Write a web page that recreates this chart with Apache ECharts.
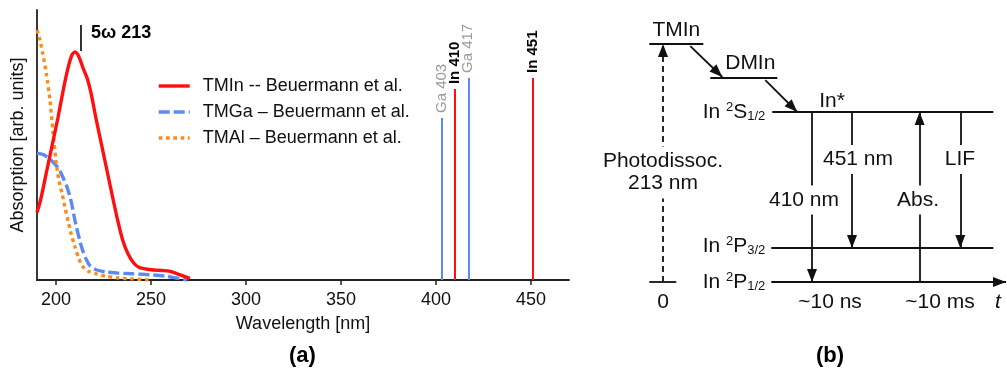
<!DOCTYPE html>
<html>
<head>
<meta charset="utf-8">
<script src="https://cdn.jsdelivr.net/npm/echarts@6/dist/echarts.min.js"></script>
<style>
  html, body { margin: 0; padding: 0; background: #fff; }
  #chart { width: 1007px; height: 371px; }
</style>
</head>
<body>
<div id="chart"></div>
<script>
// ---- (a) absorption spectra: [wavelength nm, absorption arb. units] ----
const tmInSpectrum = [
  [190, 0.25], [192, 0.3], [195, 0.4], [198, 0.5], [201, 0.6], [204, 0.71],
  [206.5, 0.79], [208.5, 0.835], [210, 0.845], [211.5, 0.835], [213, 0.81],
  [214.5, 0.78], [216.5, 0.745], [218.5, 0.69], [221, 0.6], [224, 0.5],
  [227, 0.4], [230, 0.3], [232.5, 0.22], [235, 0.15], [238, 0.095],
  [241, 0.062], [244, 0.046], [250, 0.038], [256, 0.035], [260, 0.032],
  [265, 0.02], [270.5, 0.006]
];
const tmGaSpectrum = [
  [190, 0.47], [193, 0.465], [195.5, 0.455], [198, 0.44], [200, 0.425],
  [202, 0.405], [204, 0.375], [206, 0.34], [208, 0.29], [210, 0.22],
  [212, 0.16], [214, 0.11], [216, 0.075], [218, 0.052], [221, 0.038],
  [226, 0.03], [232, 0.026], [240, 0.023], [250, 0.019], [258, 0.014],
  [263, 0.008], [269, 0.0]
];
const tmAlSpectrum = [
  [190, 0.926], [191.5, 0.89], [193, 0.84], [195, 0.76], [196.8, 0.667],
  [198.4, 0.548], [200, 0.44], [201.5, 0.37], [203.2, 0.32], [205, 0.26],
  [206.5, 0.215], [208, 0.17], [210, 0.122], [212, 0.08], [214, 0.05],
  [217, 0.032], [221.6, 0.022], [226, 0.014], [232, 0.008], [240, 0.004],
  [249.5, 0.0]
];
const spectrumNames = ['TMIn -- Beuermann et al.', 'TMGa – Beuermann et al.', 'TMAl – Beuermann et al.'];

// atomic emission lines (nm) and their drawn heights
const emissionNames = ['Ga 403', 'In 410', 'Ga 417', 'In 451'];
const emissionWavelengths = [403, 410, 417, 451];
const emissionHeights = [0.6, 0.707, 0.748, 0.748];

// photodissociation laser (5th harmonic)
const laserWavelength = 213;
const laserLabel = '5ω 213';
const laserSpan = [0.848, 0.944];

const wavelengthTicks = [200, 250, 300, 350, 400, 450];

// ---- (b) level scheme: energy (arb.) and schematic time positions ----
const levelEnergy = { TMIn: 7, DMIn: 6, S12: 5, P32: 1, P12: 0 };
const levelSpan = {
  TMIn: [-1.37, 4.03], DMIn: [4.73, 11.43], S12: [10.93, 33.03],
  P32: [10.83, 33.03], ground: [-1.37, 1.33]
};
const timeAxisEnd = 34.3;
const cascade = [
  [[2.73, 6.94], [5.93, 6.03]],
  [[10.23, 5.94], [13.43, 5.0]]
];
const transitions = [
  { name: '410 nm', x: 14.9, from: 'S12', to: 'P12', labelX: 14.1, labelY: 2.41 },
  { name: '451 nm', x: 18.9, from: 'S12', to: 'P32', labelX: 19.5, labelY: 3.6 },
  { name: 'Abs.', x: 25.66, from: 'P12', to: 'S12', labelX: 25.5, labelY: 2.41 },
  { name: 'LIF', x: 29.73, from: 'S12', to: 'P32', labelX: 29.7, labelY: 3.6 }
];
const timeMarks = [{ text: '~10 ns', x: 16.7 }, { text: '~10 ms', x: 27.7 }];

// ---------------------------------------------------------------------
const FONT = '"Liberation Sans", Arial, Helvetica, sans-serif';
const RED = '#ff0f0f', BLUE = '#5b8bf2', ORANGE = '#ff8a1c', INK = '#111';
const arrowHead = 'path://M5,0M5,13L10,26L0,26Z';

const chart = echarts.init(document.getElementById('chart'), null, { renderer: 'canvas' });

// (a) emission line segments and labels
const emissionLineData = emissionWavelengths.map((w, i) => ({
  coords: [[w, 0], [w, emissionHeights[i]]],
  lineStyle: { color: emissionNames[i].startsWith('In') ? RED : BLUE }
}));
const emissionLabelData = emissionWavelengths.map((w, i) => {
  const isIn = emissionNames[i].startsWith('In');
  return {
    value: [w, emissionHeights[i]],
    label: {
      formatter: emissionNames[i],
      color: isIn ? '#000' : '#9a9a9a',
      fontWeight: isIn ? 'bold' : 'normal'
    }
  };
});

// (b) level segments
const levelLines = [
  { coords: [[levelSpan.TMIn[0], levelEnergy.TMIn], [levelSpan.TMIn[1], levelEnergy.TMIn]] },
  { coords: [[levelSpan.DMIn[0], levelEnergy.DMIn], [levelSpan.DMIn[1], levelEnergy.DMIn]] },
  { coords: [[levelSpan.S12[0], levelEnergy.S12], [levelSpan.S12[1], levelEnergy.S12]] },
  { coords: [[levelSpan.P32[0], levelEnergy.P32], [levelSpan.P32[1], levelEnergy.P32]] },
  { coords: [[levelSpan.ground[0], 0], [levelSpan.ground[1], 0]] }
];
const arrowLines = [
  { coords: [[levelSpan.P32[0], levelEnergy.P12], [timeAxisEnd, levelEnergy.P12]] }
].concat(cascade.map(c => ({ coords: c })))
 .concat(transitions.map(t => ({ coords: [[t.x, levelEnergy[t.from]], [t.x, levelEnergy[t.to]]] })));

const richLevel = {
  m: { fontSize: 21, fontFamily: FONT, color: INK },
  sup: { fontSize: 13, fontFamily: FONT, color: INK, padding: [0, 0, 10, 0] },
  sub: { fontSize: 13, fontFamily: FONT, color: INK, padding: [9, 0, 0, 0] }
};
const labelPoint = (x, y, text, extra) => ({ value: [x, y], label: Object.assign({ formatter: text }, extra || {}) });
const whiteBox = { backgroundColor: '#fff', padding: [4, 4] };
const schemeLabels = [
  labelPoint(1.33, 7.41, 'TMIn'),
  labelPoint(8.73, 6.43, 'DMIn'),
  labelPoint(16.9, 5.33, 'In*'),
  labelPoint(0, 3.22, 'Photodissoc.\n213 nm', Object.assign({ lineHeight: 22 }, whiteBox)),
  labelPoint(0, -0.58, '0'),
  labelPoint(10.23, levelEnergy.S12, '{m|In }{sup|2}{m|S}{sub|1/2}', { align: 'right', rich: richLevel }),
  labelPoint(10.23, levelEnergy.P32 + 0.05, '{m|In }{sup|2}{m|P}{sub|3/2}', { align: 'right', rich: richLevel }),
  labelPoint(10.23, levelEnergy.P12, '{m|In }{sup|2}{m|P}{sub|1/2}', { align: 'right', rich: richLevel }),
  labelPoint(33.5, -0.58, 't', { fontStyle: 'italic' })
].concat(transitions.map(t => labelPoint(t.labelX, t.labelY, t.name, whiteBox)))
 .concat(timeMarks.map(m => labelPoint(m.x, -0.58, m.text)));

const option = {
  animation: false,
  backgroundColor: '#fff',
  textStyle: { fontFamily: FONT },
  title: [
    { text: '(a)', left: 289, top: 345, padding: 0,
      textStyle: { fontSize: 22, fontWeight: 'bold', color: '#000', fontFamily: FONT } },
    { text: '(b)', left: 816, top: 345, padding: 0,
      textStyle: { fontSize: 22, fontWeight: 'bold', color: '#000', fontFamily: FONT } }
  ],
  legend: {
    data: spectrumNames,
    orient: 'vertical',
    left: 157, top: 77,
    itemWidth: 31, itemHeight: 14, itemGap: 8,
    padding: 0,
    selectedMode: false,
    itemStyle: { opacity: 0, borderWidth: 0 },
    lineStyle: { width: 3.4, opacity: 1 },
    textStyle: { fontSize: 18, color: '#111', fontFamily: FONT, padding: [0, 0, 0, 8] }
  },
  grid: [
    { left: 37, right: 438, top: 10, bottom: 91 },
    { left: 633, right: 0, top: 10, bottom: 55 }
  ],
  xAxis: [
    {
      gridIndex: 0, type: 'value', min: 190, max: 470,
      name: 'Wavelength [nm]', nameLocation: 'middle', nameGap: 35,
      nameTextStyle: { fontSize: 18, color: '#111', fontFamily: FONT },
      axisLine: { lineStyle: { color: '#222', width: 1.8 } },
      axisTick: { show: true, length: 5, customValues: wavelengthTicks, lineStyle: { color: '#222', width: 1.5 } },
      axisLabel: { customValues: wavelengthTicks, fontSize: 18, color: '#111', margin: 11, fontFamily: FONT },
      splitLine: { show: false }
    },
    { gridIndex: 1, type: 'value', min: -3, max: 34.4, show: false }
  ],
  yAxis: [
    {
      gridIndex: 0, type: 'value', min: 0, max: 1,
      name: 'Absorption [arb. units]', nameLocation: 'middle', nameGap: 10,
      nameTextStyle: { fontSize: 18, color: '#111', fontFamily: FONT },
      axisLine: { show: true, lineStyle: { color: '#222', width: 1.8 } },
      axisTick: { show: false }, axisLabel: { show: false }, splitLine: { show: false }
    },
    { gridIndex: 1, type: 'value', min: -1, max: 8, show: false }
  ],
  series: [
    {
      name: spectrumNames[0], type: 'line', xAxisIndex: 0, yAxisIndex: 0,
      data: tmInSpectrum, symbol: 'none', smooth: 0.25, z: 4,
      itemStyle: { color: RED },
      lineStyle: { color: RED, width: 3.4 }
    },
    {
      name: spectrumNames[1], type: 'line', xAxisIndex: 0, yAxisIndex: 0,
      data: tmGaSpectrum, symbol: 'none', smooth: 0.25, z: 3,
      itemStyle: { color: BLUE },
      lineStyle: { color: BLUE, width: 3.4, type: [11, 4] }
    },
    {
      name: spectrumNames[2], type: 'line', xAxisIndex: 0, yAxisIndex: 0,
      data: tmAlSpectrum, symbol: 'none', smooth: 0.25, z: 3,
      itemStyle: { color: ORANGE },
      lineStyle: { color: ORANGE, width: 3.4, type: [3.7, 3.6] }
    },
    {
      type: 'lines', coordinateSystem: 'cartesian2d', xAxisIndex: 0, yAxisIndex: 0,
      data: emissionLineData, lineStyle: { width: 2, opacity: 1 }, silent: true, z: 2
    },
    {
      type: 'lines', coordinateSystem: 'cartesian2d', xAxisIndex: 0, yAxisIndex: 0,
      data: [{ coords: [[laserWavelength, laserSpan[0]], [laserWavelength, laserSpan[1]]] }],
      lineStyle: { width: 1.6, color: '#000', opacity: 1 }, silent: true, z: 2
    },
    {
      type: 'scatter', xAxisIndex: 0, yAxisIndex: 0, symbolSize: 0, silent: true, z: 5,
      itemStyle: { opacity: 1 },
      data: emissionLabelData,
      label: {
        show: true, position: 'top', distance: 5, rotate: 90,
        align: 'left', verticalAlign: 'middle', fontSize: 15, fontFamily: FONT
      }
    },
    {
      type: 'scatter', xAxisIndex: 0, yAxisIndex: 0, symbolSize: 0, silent: true, z: 5,
      itemStyle: { opacity: 1 },
      data: [{ value: [218.4, 0.915] }],
      label: {
        show: true, position: 'inside', align: 'left', verticalAlign: 'middle',
        formatter: laserLabel, fontSize: 18, fontWeight: 'bold', color: '#000', fontFamily: FONT
      }
    },
    // (b) energy level scheme
    {
      type: 'lines', coordinateSystem: 'cartesian2d', xAxisIndex: 1, yAxisIndex: 1,
      data: levelLines, lineStyle: { width: 1.8, color: INK, opacity: 1 }, silent: true, z: 2
    },
    {
      type: 'lines', coordinateSystem: 'cartesian2d', xAxisIndex: 1, yAxisIndex: 1,
      data: arrowLines, symbol: ['none', arrowHead], symbolSize: [0, [10, 26]],
      lineStyle: { width: 1.8, color: INK, opacity: 1 }, silent: true, z: 2
    },
    {
      type: 'lines', coordinateSystem: 'cartesian2d', xAxisIndex: 1, yAxisIndex: 1,
      data: [{ coords: [[0, 0], [0, levelEnergy.TMIn]] }],
      symbol: ['none', arrowHead], symbolSize: [0, [10, 26]],
      lineStyle: { width: 1.8, color: INK, type: [6, 4], opacity: 1 }, silent: true, z: 2
    },
    {
      type: 'scatter', xAxisIndex: 1, yAxisIndex: 1, symbolSize: 0, silent: true, z: 5,
      itemStyle: { opacity: 1 },
      data: schemeLabels,
      label: {
        show: true, position: 'inside', align: 'center', verticalAlign: 'middle',
        fontSize: 21, color: INK, fontFamily: FONT
      }
    }
  ]
};
chart.setOption(option);
</script>
</body>
</html>
